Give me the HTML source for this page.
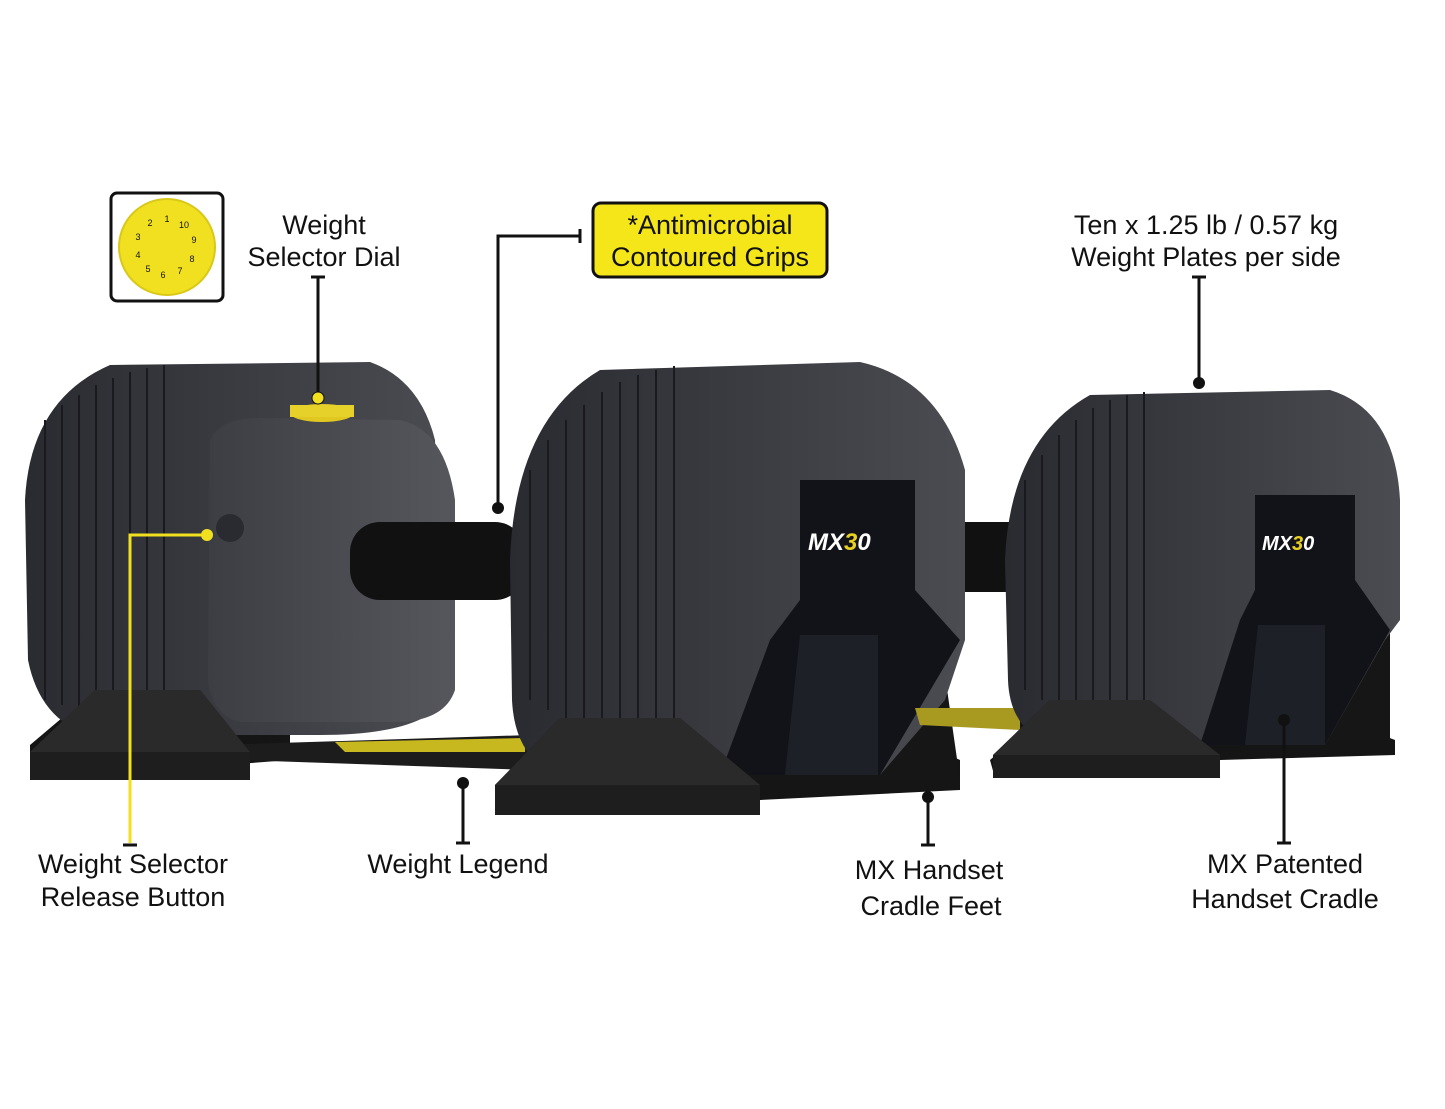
<!DOCTYPE html>
<html><head><meta charset="utf-8"><style>
html,body{margin:0;padding:0;background:#fff}
svg{display:block}
text{font-family:"Liberation Sans Narrow","Liberation Sans",sans-serif;fill:#111}
</style></head><body>
<svg width="1445" height="1109" viewBox="0 0 1445 1109" xmlns="http://www.w3.org/2000/svg">
<defs>
<linearGradient id="pl" x1="0" x2="1"><stop offset="0" stop-color="#2a2b30"/><stop offset="1" stop-color="#4a4c52"/></linearGradient>
<linearGradient id="cap" x1="0" x2="1"><stop offset="0" stop-color="#3c3e44"/><stop offset="1" stop-color="#55575d"/></linearGradient>
</defs>
<!-- Left cradle -->
<polygon points="35,620 200,620 290,690 290,760 30,780 30,745 95,690" fill="#151515"/>
<!-- weight legend strip -->
<polygon points="215,745 530,735 530,770 240,760" fill="#1c1c1c"/>
<polygon points="335,742 525,738 525,752 345,752" fill="#c8b820"/>
<!-- Left dumbbell plates -->
<path d="M25,500 Q30,400 110,365 L370,362 Q420,380 435,440 L445,700 Q420,735 320,735 L90,735 Q40,720 28,660 Z" fill="url(#pl)"/>
<g stroke="#1a1a1e" stroke-width="2" fill="none">
<path d="M45,420 L45,700"/><path d="M62,405 L62,705"/><path d="M79,395 L79,710"/><path d="M96,385 L96,715"/><path d="M113,378 L113,720"/><path d="M130,372 L130,722"/><path d="M147,368 L147,725"/><path d="M164,365 L164,728"/>
</g>
<path d="M210,440 Q220,418 260,418 L400,420 Q445,430 455,500 L455,690 Q445,720 400,722 L240,722 Q212,715 208,680 Z" fill="url(#cap)"/>
<ellipse cx="322" cy="413" rx="32" ry="9" fill="#e0c820"/>
<rect x="290" y="405" width="64" height="12" fill="#e6d02a"/>
<circle cx="230" cy="528" r="14" fill="#2a2b30"/>
<!-- left front feet -->
<polygon points="30,752 95,690 200,690 250,752 250,780 30,780" fill="#1e1e1e"/>
<polygon points="95,690 200,690 250,752 100,752 30,752" fill="#2a2a2a"/>
<!-- handle -->
<rect x="350" y="522" width="175" height="78" rx="30" fill="#111"/>
<rect x="940" y="522" width="80" height="70" fill="#111"/>
<!-- Middle cradle -->
<polygon points="495,785 580,715 860,715 960,760 960,790 760,800 760,815 495,815" fill="#151515"/>
<polygon points="518,640 940,640 960,780 530,780" fill="#161616"/>
<!-- Middle plates -->
<path d="M510,560 Q515,420 600,370 L860,362 Q940,380 965,470 L965,640 L945,700 L880,775 L560,775 Q515,760 512,700 Z" fill="url(#pl)"/>
<g stroke="#1a1a1e" stroke-width="2" fill="none">
<path d="M530,470 L530,700"/><path d="M548,440 L548,710"/><path d="M566,420 L566,720"/><path d="M584,405 L584,725"/><path d="M602,392 L602,730"/><path d="M620,382 L620,735"/><path d="M638,375 L638,738"/><path d="M656,370 L656,740"/><path d="M674,366 L674,742"/>
</g>
<polygon points="800,480 915,480 915,590 960,640 880,775 720,775 770,640 800,600" fill="#121319"/>
<text x="808" y="550" style="font-style:italic;font-weight:bold;font-size:24px;fill:#fff">MX<tspan fill="#e8d020">3</tspan>0</text>
<polygon points="800,635 878,635 878,775 785,775" fill="#1e2028"/>
<polygon points="495,785 560,718 680,718 760,785 760,815 495,815" fill="#1e1e1e"/>
<polygon points="560,718 680,718 760,785 495,785" fill="#2a2a2a"/>
<!-- Right cradle -->
<polygon points="990,760 1060,700 1290,700 1395,740 1395,755 1220,760 1220,778 995,778" fill="#151515"/>
<polygon points="1015,625 1390,625 1390,740 1020,745" fill="#161616"/>
<polygon points="915,708 1020,708 1020,730 920,725" fill="#a89a20"/>
<!-- Right plates -->
<path d="M1005,560 Q1010,440 1090,395 L1330,390 Q1395,410 1400,500 L1400,620 L1385,640 L1325,745 L1060,745 Q1010,735 1008,680 Z" fill="url(#pl)"/>
<g stroke="#1a1a1e" stroke-width="2" fill="none">
<path d="M1025,480 L1025,690"/><path d="M1042,455 L1042,700"/><path d="M1059,435 L1059,705"/><path d="M1076,420 L1076,710"/><path d="M1093,408 L1093,715"/><path d="M1110,400 L1110,718"/><path d="M1127,395 L1127,720"/><path d="M1144,392 L1144,722"/>
</g>
<polygon points="1255,495 1355,495 1355,580 1390,630 1325,745 1200,745 1240,620 1255,590" fill="#121319"/>
<text x="1262" y="550" style="font-style:italic;font-weight:bold;font-size:20px;fill:#fff">MX<tspan fill="#e8d020">3</tspan>0</text>
<polygon points="1258,625 1325,625 1325,745 1245,745" fill="#1e2028"/>
<polygon points="993,755 1050,700 1150,700 1220,755 1220,778 993,778" fill="#1e1e1e"/>
<polygon points="1050,700 1150,700 1220,755 993,755" fill="#2a2a2a"/>

<!-- Dial box -->
<rect x="111" y="193" width="112" height="108" rx="6" fill="#fff" stroke="#111" stroke-width="3"/>
<circle cx="167" cy="247" r="48" fill="#f0e020" stroke="#d8c818" stroke-width="2"/>
<g font-size="9" text-anchor="middle">
<text x="167" y="222">1</text><text x="184" y="228">10</text><text x="194" y="243">9</text><text x="192" y="262">8</text><text x="180" y="274">7</text><text x="163" y="278">6</text><text x="148" y="272">5</text><text x="138" y="258">4</text><text x="138" y="240">3</text><text x="150" y="226">2</text>
</g>

<!-- Labels -->
<g font-size="27" text-anchor="middle">
<text x="324" y="234">Weight</text>
<text x="324" y="266">Selector Dial</text>
<text x="1206" y="234">Ten x 1.25 lb / 0.57 kg</text>
<text x="1206" y="266">Weight Plates per side</text>
<text x="133" y="873">Weight Selector</text>
<text x="133" y="906">Release Button</text>
<text x="458" y="873">Weight Legend</text>
<text x="929" y="879">MX Handset</text>
<text x="931" y="915">Cradle Feet</text>
<text x="1285" y="873">MX Patented</text>
<text x="1285" y="908">Handset Cradle</text>
</g>
<rect x="593" y="203" width="234" height="74" rx="8" fill="#f5e61a" stroke="#111" stroke-width="3"/>
<g font-size="27" text-anchor="middle">
<text x="710" y="234">*Antimicrobial</text>
<text x="710" y="266">Contoured Grips</text>
</g>

<!-- Connectors -->
<g stroke="#111" stroke-width="3" fill="none">
<path d="M318,277 L318,398"/><path d="M311,277 L325,277"/>
<path d="M580,236 L498,236 L498,508"/><path d="M580,229 L580,243"/>
<path d="M1199,277 L1199,383"/><path d="M1192,277 L1206,277"/>
<path d="M123,845 L137,845"/>
<path d="M463,783 L463,843"/><path d="M456,843 L470,843"/>
<path d="M928,797 L928,845"/><path d="M921,845 L935,845"/>
<path d="M1284,720 L1284,843"/><path d="M1277,843 L1291,843"/>
</g>
<path d="M130,843 L130,535 L207,535" stroke="#f0e020" stroke-width="3" fill="none"/>
<circle cx="318" cy="398" r="6" fill="#f0e020" stroke="#111" stroke-width="1"/>
<circle cx="207" cy="535" r="6" fill="#f0e020"/>
<circle cx="498" cy="508" r="6" fill="#111"/>
<circle cx="1199" cy="383" r="6" fill="#111"/>
<circle cx="463" cy="783" r="6" fill="#111"/>
<circle cx="928" cy="797" r="6" fill="#111"/>
<circle cx="1284" cy="720" r="6" fill="#111"/>
</svg>
</body></html>
